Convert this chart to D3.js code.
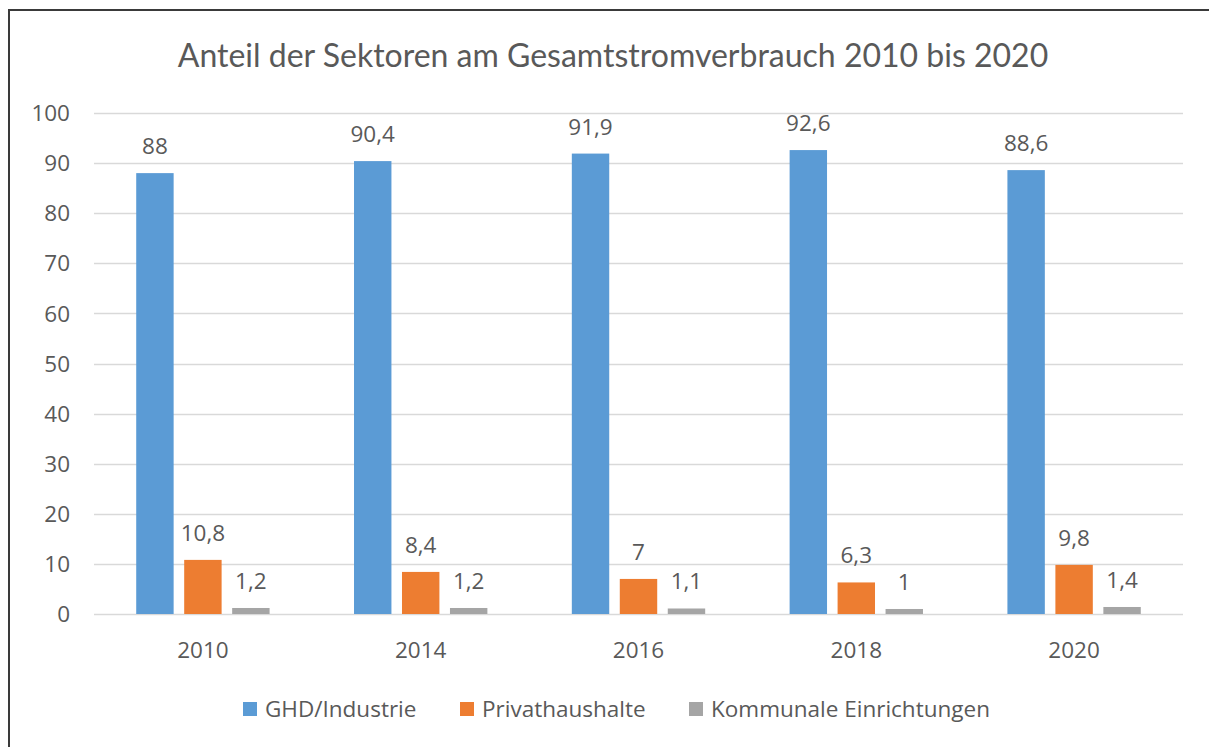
<!DOCTYPE html>
<html>
<head>
<meta charset="utf-8">
<script src="https://cdn.jsdelivr.net/npm/d3@7"></script>
<style>
  body { margin: 0; background: #fff; }
  svg text { font-family: "Open Sans", sans-serif; fill: #595959; }
</style>
</head>
<body>
<script>
"use strict";

// chart data
const years = ["2010", "2014", "2016", "2018", "2020"];
const seriesNames = ["GHD/Industrie", "Privathaushalte", "Kommunale Einrichtungen"];
const ghd = [88, 90.4, 91.9, 92.6, 88.6];
const privat = [10.8, 8.4, 7, 6.3, 9.8];
const kommunal = [1.2, 1.2, 1.1, 1, 1.4];
const yTicks = [0, 10, 20, 30, 40, 50, 60, 70, 80, 90, 100];
const colors = ["#5B9BD5", "#ED7D31", "#A5A5A5"];

(function()
{
	let width = 1209, height = 747;
	let values = [ghd, privat, kommunal];
	let fmt = function(v) { return String(v).replace(".", ","); };
	let fs = "22.5px";

	let svg = d3.select("body").append("svg")
		.attr("width", width)
		.attr("height", height);

	//frame, cut off right and bottom like the screenshot
	svg.append("rect")
		.attr("x", 9).attr("y", 10)
		.attr("width", 1300).attr("height", 900)
		.attr("fill", "#fff")
		.attr("stroke", "#3a3a3a")
		.attr("stroke-width", 2);

	let x0 = d3.scaleBand().domain(years).range([94, 1183]).padding(0);
	let x1 = d3.scaleBand().domain(seriesNames).range([0, x0.bandwidth()])
		.paddingInner(0.22).paddingOuter(0.88);
	let y = d3.scaleLinear().domain([0, 100]).range([614, 113]);

	//title
	svg.append("text")
		.attr("x", 613).attr("y", 67)
		.attr("text-anchor", "middle")
		.style("font-family", "Lato, sans-serif")
		.style("font-size", "32px")
		.text("Anteil der Sektoren am Gesamtstromverbrauch 2010 bis 2020");

	//gridlines
	svg.append("g").selectAll("line")
		.data(yTicks)
		.join("line")
		.attr("x1", 94).attr("x2", 1183)
		.attr("y1", d => Math.round(y(d)) + 0.5)
		.attr("y2", d => Math.round(y(d)) + 0.5)
		.attr("stroke", "#D9D9D9")
		.attr("stroke-width", 1.5);

	//y axis labels
	svg.append("g").selectAll("text")
		.data(yTicks)
		.join("text")
		.attr("x", 70)
		.attr("y", d => y(d))
		.attr("dy", "0.36em")
		.attr("text-anchor", "end")
		.style("font-size", fs)
		.text(d => d);

	//x axis labels
	svg.append("g").selectAll("text")
		.data(years)
		.join("text")
		.attr("x", d => x0(d) + x0.bandwidth() / 2)
		.attr("y", 658)
		.attr("text-anchor", "middle")
		.style("font-size", fs)
		.text(d => d);

	//bars
	let groups = svg.append("g").selectAll("g")
		.data(years)
		.join("g")
		.attr("transform", d => "translate(" + x0(d) + ",0)");

	let cells = groups.selectAll("g")
		.data((d, i) => seriesNames.map((s, k) => ({ s: s, k: k, v: values[k][i] })))
		.join("g");

	cells.append("rect")
		.attr("x", d => x1(d.s))
		.attr("y", d => y(d.v))
		.attr("width", x1.bandwidth())
		.attr("height", d => y(0) - y(d.v))
		.attr("fill", d => colors[d.k]);

	cells.append("text")
		.attr("x", d => x1(d.s) + x1.bandwidth() / 2)
		.attr("y", d => y(d.v) - 19)
		.attr("text-anchor", "middle")
		.style("font-size", fs)
		.text(d => fmt(d.v));

	//legend
	let legendX = [243, 460, 689];
	let legend = svg.append("g").selectAll("g")
		.data(seriesNames)
		.join("g")
		.attr("transform", (d, i) => "translate(" + legendX[i] + ",702)");
	legend.append("rect")
		.attr("width", 14).attr("height", 14)
		.attr("fill", (d, i) => colors[i]);
	legend.append("text")
		.attr("x", 22).attr("y", 7)
		.attr("dy", "0.36em")
		.style("font-size", fs)
		.text(d => d);
})();
</script>
</body>
</html>
